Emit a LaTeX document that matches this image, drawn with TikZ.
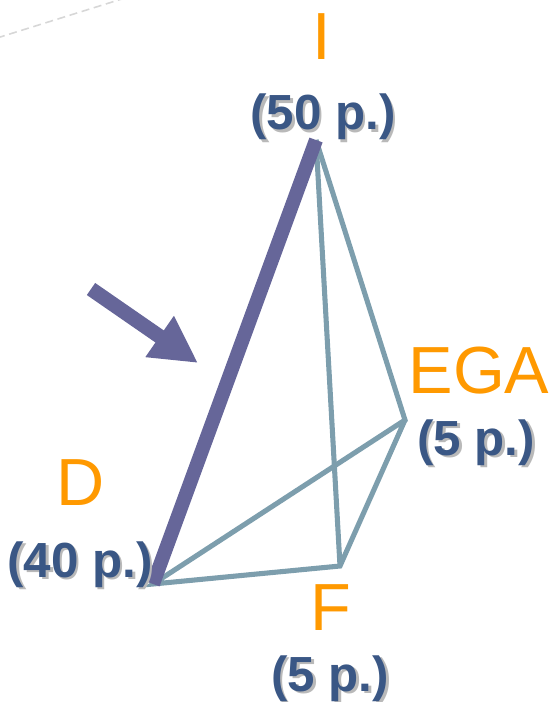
\documentclass[tikz,border=0pt]{standalone}
\usepackage{fontspec}
\setmainfont{Liberation Sans}
\usetikzlibrary{arrows.meta}
\definecolor{edgepurple}{RGB}{102,102,153}
\definecolor{edgeteal}{RGB}{125,158,173}
\definecolor{nameorange}{RGB}{255,153,0}
\definecolor{ptsblue}{RGB}{58,87,133}
\definecolor{shadowgray}{RGB}{185,185,185}
\definecolor{dashgray}{RGB}{215,215,215}
\newcommand{\shadowed}[1]{\makebox[0pt][l]{\kern2pt\raisebox{-2pt}{\textcolor{shadowgray}{#1}}}#1}
\tikzset{
    vname/.style={
        text=nameorange, anchor=base, inner sep=0pt,
        font=\fontsize{50}{60}\selectfont
    },
    pts/.style={
        text=ptsblue, anchor=base, inner sep=0pt,
        font=\fontsize{37}{44}\selectfont\bfseries
    }
}

\begin{document}
\begin{tikzpicture}[x=0.75pt,y=-0.75pt, line join=miter]

\tikzset{
  thin/.style={draw=edgeteal, line width=3.8pt},
  thick/.style={draw=edgepurple, line width=10.5pt},
  pointer/.style={draw=edgepurple, line width=11pt, -{Triangle[length=35pt 0, width=35pt 0]}},
  deco/.style={draw=dashgray, line width=1.2pt, dash pattern=on 6pt off 3.5pt},
}

\useasboundingbox (0,0) rectangle (552,702);

\coordinate (I) at (316,140);
\coordinate (D) at (153,584);
\coordinate (F) at (340,566);
\coordinate (EGA) at (405,420);
\coordinate (tail) at (91,289);
\coordinate (tip) at (198,363);
\coordinate (dashA) at (-3,38);
\coordinate (dashB) at (125,-2);

% faint dashed line in the corner
\draw[deco] (dashA) -- (dashB);

% thin edges
\draw[thin] (I) -- (EGA) -- (D) -- (F) -- (EGA);
\draw[thin] (I) -- (F);

% thick edge D -- I
\draw[thick] (D) -- (I);

% pointer arrow
\draw[pointer] (tail) -- (tip);

% labels
\node[vname] (nameI) at (322,60) {I};
\node[pts] (ptsI) at (323,130) {\shadowed{(50 p.)}};
\node[vname] (nameEGA) at (479,393) {EGA};
\node[pts] (ptsEGA) at (476,455) {\shadowed{(5 p.)}};
\node[vname] (nameD) at (81,505) {D};
\node[pts] (ptsD) at (80,577) {\shadowed{(40 p.)}};
\node[vname] (nameF) at (331,630) {F};
\node[pts] (ptsF) at (330,691) {\shadowed{(5 p.)}};

\end{tikzpicture}
\end{document}
